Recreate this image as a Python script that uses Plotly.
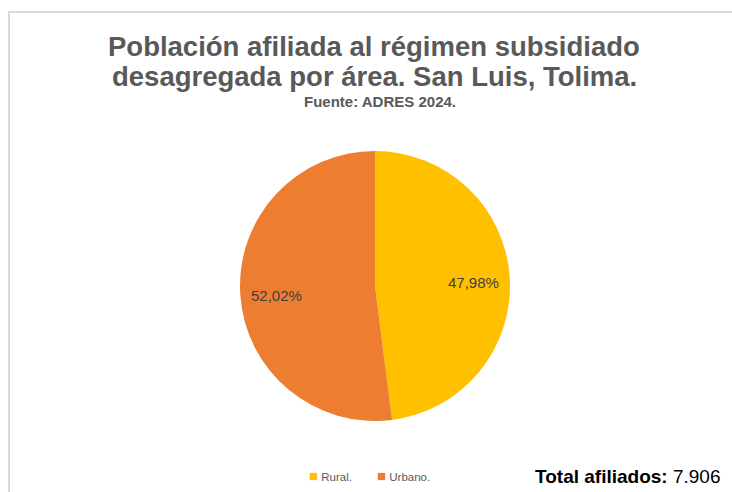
import math
import plotly.graph_objects as go

categories = ["Rural.", "Urbano."]
values = [47.98, 52.02]
colors = ["#FFC000", "#ED7D31"]
total_label = "7.906"

W, H = 732, 492
FONT = "Liberation Sans, Arial"
cx, cy, R = 375, 286, 135  # pie placement (pixels)

fig = go.Figure()
fig.add_trace(go.Pie(
    labels=categories,
    values=values,
    marker=dict(colors=colors, line=dict(color="white", width=0)),
    sort=False,
    direction="clockwise",
    rotation=0,
    textinfo="none",
    domain=dict(x=[(cx - R) / W, (cx + R) / W], y=[1 - (cy + R) / H, 1 - (cy - R) / H]),
    hoverinfo="skip",
    showlegend=False,
))

annotations = [
    dict(text="<b>Población afiliada al régimen subsidiado</b>", x=374 / W, y=1 - 46 / H,
         font=dict(family=FONT, size=27.5, color="#595959")),
    dict(text="<b>desagregada por área. San Luis, Tolima.</b>", x=374 / W, y=1 - 76 / H,
         font=dict(family=FONT, size=27.5, color="#595959")),
    dict(text="<b>Fuente: ADRES 2024.</b>", x=380 / W, y=1 - 101 / H,
         font=dict(family=FONT, size=15, color="#595959")),
    dict(text="<b>Total afiliados:</b> " + total_label, x=723 / W, y=1 - 476 / H, xanchor="right",
         font=dict(family=FONT, size=19, color="#000000")),
]

# percentage labels placed along each slice's mid angle
total = sum(values)
cum = 0.0
for v in values:
    mid = (cum + v / 2) / total * 2 * math.pi
    cum += v
    px = cx + 0.73 * R * math.sin(mid)
    py = cy - 0.73 * R * math.cos(mid) + 3
    annotations.append(dict(text=f"{v:.2f}%".replace(".", ","), x=px / W, y=1 - py / H,
                            font=dict(family=FONT, size=15, color="#404040")))

# legend built as text with colour squares
leg_x = [307, 375]
for name, col, lx in zip(categories, colors, leg_x):
    annotations.append(dict(
        text=f"<span style='color:{col};font-size:15px'>■</span> {name}", x=lx / W, y=1 - 475 / H,
        xanchor="left", font=dict(family=FONT, size=11.5, color="#595959")))

for a in annotations:
    a.setdefault("xref", "paper")
    a.setdefault("yref", "paper")
    a.setdefault("showarrow", False)
    a.setdefault("yanchor", "middle")

fig.update_layout(
    width=W, height=H,
    margin=dict(l=0, r=0, t=0, b=0),
    paper_bgcolor="white",
    plot_bgcolor="white",
    showlegend=False,
    shapes=[dict(type="rect", xref="paper", yref="paper",
                 x0=9 / W, x1=1.05, y0=-0.05, y1=1 - 12 / H,
                 line=dict(color="#d9d9d9", width=2))],
    annotations=annotations,
)
fig.write_html("out.html", config={"displayModeBar": False},
               post_script="document.body.style.margin='0';")
